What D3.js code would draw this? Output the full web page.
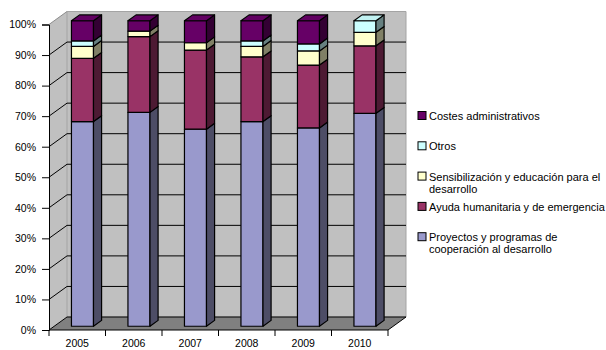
<!DOCTYPE html>
<html>
<head>
<meta charset="utf-8">
<script src="https://cdn.jsdelivr.net/npm/d3@7"></script>
<style>
  body { margin: 0; background: #fff; }
  text { font-family: "Liberation Sans", Arial, sans-serif; fill: #000; }
</style>
</head>
<body>
<div id="chart"></div>
<script>
// Years on the x axis
const years = ["2005", "2006", "2007", "2008", "2009", "2010"];

// Share of each item per year (percent), stacked bottom to top
const proyectos = [67.0, 70.0, 64.5, 67.0, 64.9, 69.7];
const ayuda     = [20.7, 24.8, 25.9, 21.2, 20.6, 22.1];
const sensib    = [3.9, 1.8, 2.4, 3.4, 4.6, 4.4];
const otros     = [1.8, 0.0, 0.0, 1.8, 2.3, 3.8];
const costes    = [6.6, 3.4, 7.2, 6.6, 7.6, 0.0];

const seriesKeys = ["proyectos", "ayuda", "sensib", "otros", "costes"];
const seriesLabels = [
  ["Proyectos y programas de", "cooperación al desarrollo"],
  ["Ayuda humanitaria y de emergencia"],
  ["Sensibilización y educación para el", "desarrollo"],
  ["Otros"],
  ["Costes administrativos"]
];
const frontColors = ["#9999CC", "#993366", "#FFFFCC", "#CCFFFF", "#660066"];
const yTicks = [0, 0.1, 0.2, 0.3, 0.4, 0.5, 0.6, 0.7, 0.8, 0.9, 1];

const W = 606, H = 350;
const DX = 18, DY = 13;        // depth of the 3D box
const z0 = 0.29, z1 = 0.74;    // bar depth inside the box

const svg = d3.select("#chart").append("svg")
  .attr("width", W).attr("height", H);

const x = d3.scaleBand().domain(years).range([49, 388])
  .paddingInner(0.61).paddingOuter(0.305);
const y = d3.scaleLinear().domain([0, 1]).range([330, 24.5]);
const color = d3.scaleOrdinal().domain(seriesKeys).range(frontColors);

const x0 = x.range()[0], x1 = x.range()[1];
const pt = (px, v, z) => [px + z * DX, y(v) - z * DY];
const poly = pts => "M" + pts.map(p => p.join(",")).join("L") + "Z";

// walls
svg.append("path")
  .attr("d", poly([[x0, y(0)], [x0, y(1)], [x0 + DX, y(1) - DY], [x0 + DX, y(0) - DY]]))
  .attr("fill", "#C0C0C0").attr("stroke", "none");
svg.append("path")
  .attr("d", poly([[x0 + DX, y(0) - DY], [x0 + DX, y(1) - DY], [x1 + DX, y(1) - DY], [x1 + DX, y(0) - DY]]))
  .attr("fill", "#C0C0C0").attr("stroke", "#a4a4a4");

// gridlines
const grid = yTicks.filter(t => t > 0 && t < 1);
svg.append("g").selectAll("path").data(grid).enter().append("path")
  .attr("d", t => `M${x0},${y(t)}L${x0 + DX},${y(t) - DY}L${x1 + DX},${y(t) - DY}`)
  .attr("fill", "none").attr("stroke", "#000").attr("stroke-width", 1);
svg.append("path")
  .attr("d", `M${x0},${y(1)}L${x0 + DX},${y(1) - DY}`)
  .attr("stroke", "#8c8c8c").attr("fill", "none");

// floor
svg.append("path")
  .attr("d", poly([[x0, y(0)], [x1, y(0)], [x1 + DX, y(0) - DY], [x0 + DX, y(0) - DY]]))
  .attr("fill", "#808080").attr("stroke", "#000").attr("stroke-width", 1);

// axes
svg.append("g")
  .attr("transform", `translate(${x0},0)`)
  .call(d3.axisLeft(y).tickValues(yTicks).tickFormat(d3.format(".0%")).tickSize(7).tickPadding(6))
  .call(g => g.selectAll("text").attr("font-size", 10.5).attr("font-family", "Liberation Sans, Arial, sans-serif"))
  .call(g => g.select(".domain").attr("stroke", "#000"));

svg.append("g")
  .attr("transform", `translate(0,${y(0)})`)
  .call(d3.axisBottom(x).tickSize(0).tickPadding(10))
  .call(g => g.select(".domain").remove())
  .call(g => g.selectAll("text").attr("font-size", 10.5).attr("font-family", "Liberation Sans, Arial, sans-serif"));

// category boundary ticks
const bounds = years.map(d => x(d) - x.step() * 0.305).concat([x1]);
svg.append("g").selectAll("line").data(bounds).enter().append("line")
  .attr("x1", d => d).attr("x2", d => d)
  .attr("y1", y(0)).attr("y2", y(0) + 6)
  .attr("stroke", "#000");

// stacked 3D bars
const rows = years.map((yr, i) => ({
  year: yr, proyectos: proyectos[i], ayuda: ayuda[i], sensib: sensib[i], otros: otros[i], costes: costes[i]
}));
const stacked = d3.stack().keys(seriesKeys).offset(d3.stackOffsetExpand)(rows);

const bw = x.bandwidth();
years.forEach((yr, i) => {
  const g = svg.append("g");
  const segs = stacked.map(s => ({ key: s.key, v0: s[i][0], v1: s[i][1] }))
    .filter(s => s.v1 - s.v0 > 0);
  segs.forEach((s, j) => {
    const bx = x(yr);
    const c = d3.color(color(s.key));
    const side = d3.rgb(c.r / 2, c.g / 2, c.b / 2);
    g.append("path")
      .attr("d", poly([pt(bx, s.v0, z0), pt(bx + bw, s.v0, z0), pt(bx + bw, s.v1, z0), pt(bx, s.v1, z0)]))
      .attr("fill", c).attr("stroke", "#000").attr("stroke-width", 1.2).attr("stroke-linejoin", "round");
    g.append("path")
      .attr("d", poly([pt(bx + bw, s.v0, z0), pt(bx + bw, s.v0, z1), pt(bx + bw, s.v1, z1), pt(bx + bw, s.v1, z0)]))
      .attr("fill", side).attr("stroke", "#000").attr("stroke-width", 1.2).attr("stroke-linejoin", "round");
    if (j === segs.length - 1) {
      g.append("path")
        .attr("d", poly([pt(bx, s.v1, z0), pt(bx + bw, s.v1, z0), pt(bx + bw, s.v1, z1), pt(bx, s.v1, z1)]))
        .attr("fill", c.darker(0.15)).attr("stroke", "#000").attr("stroke-width", 1.2).attr("stroke-linejoin", "round");
    }
  });
});

// legend (top to bottom: last series first)
const legendOrder = d3.range(seriesKeys.length).reverse();
const legend = svg.append("g").selectAll("g").data(legendOrder).enter().append("g")
  .attr("transform", (d, i) => `translate(418,${116 + i * 30.3})`);
legend.append("rect")
  .attr("x", 0).attr("y", -4.5).attr("width", 8).attr("height", 8)
  .attr("fill", d => frontColors[d]).attr("stroke", "#000").attr("stroke-width", 1);
legend.append("text")
  .attr("x", 11).attr("font-size", 11)
  .selectAll("tspan").data(d => seriesLabels[d]).enter().append("tspan")
  .attr("x", 11).attr("y", (d, k) => k * 12 + 4)
  .text(d => d);
</script>
</body>
</html>
